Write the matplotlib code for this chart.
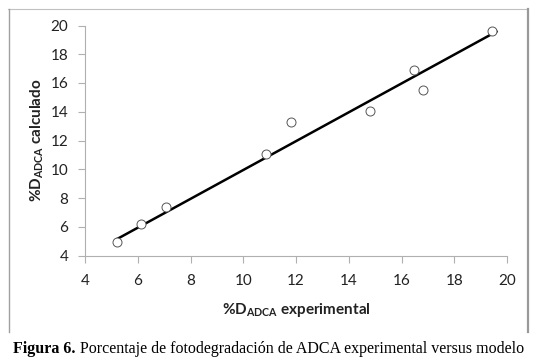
import matplotlib.pyplot as plt
from matplotlib.lines import Line2D

# valores
d_experimental = [5.23, 6.14, 7.09, 10.85, 11.81, 14.82, 16.48, 16.81, 19.43]
d_calculado = [4.92, 6.17, 7.35, 11.08, 13.27, 14.06, 16.88, 15.49, 19.65]

# línea de tendencia (extremos)
trend_x = [5.23, 19.6]
trend_y = [5.16, 19.58]

ticks = [4, 6, 8, 10, 12, 14, 16, 18, 20]

plt.rcParams['font.family'] = ['Lato', 'DejaVu Sans']
plt.rcParams['mathtext.fontset'] = 'custom'
plt.rcParams['mathtext.rm'] = 'Lato:bold'
plt.rcParams['mathtext.default'] = 'rm'

fig = plt.figure(figsize=(5.37, 3.64), dpi=100)
ax = fig.add_axes([85 / 537, 1 - 255.5 / 364, 422 / 537, 230 / 364])

ax.plot(trend_x, trend_y, color='black', linewidth=1.8, zorder=2)
ax.scatter(d_experimental, d_calculado, s=42, facecolors='white',
           edgecolors='#555555', linewidths=0.7, zorder=3)

ax.set_xlim(4, 20)
ax.set_ylim(4, 20)
ax.set_xticks(ticks)
ax.set_yticks(ticks)

for side in ['top', 'right']:
    ax.spines[side].set_visible(False)
for side in ['left', 'bottom']:
    ax.spines[side].set_color('#b0b0b0')
    ax.spines[side].set_linewidth(0.8)

ax.tick_params(axis='both', direction='out', length=5, width=0.8,
               color='#b0b0b0', labelsize=11, labelcolor='#222222')
ax.tick_params(axis='x', pad=8)
ax.tick_params(axis='y', pad=7)

ax.set_xlabel(r'%D$_{\mathrm{ADCA}}$ experimental', fontsize=11,
              fontweight='bold', color='#222222', labelpad=10)
ax.set_ylabel(r'%D$_{\mathrm{ADCA}}$ calculado', fontsize=11,
              fontweight='bold', color='#222222', labelpad=3)

# marco del gráfico
fig.add_artist(Line2D([8 / 537, 528 / 537], [1 - 9 / 364, 1 - 9 / 364],
                      color='#c0c0c0', linewidth=0.8, transform=fig.transFigure))
fig.add_artist(Line2D([8.5 / 537, 8.5 / 537], [1 - 9 / 364, 1 - 332 / 364],
                      color='#a0a0a0', linewidth=1.0, transform=fig.transFigure))
fig.add_artist(Line2D([528 / 537, 528 / 537], [1 - 9 / 364, 1 - 332 / 364],
                      color='#999999', linewidth=1.6, transform=fig.transFigure))

# pie de figura
cap_y = 1 - 349 / 364
fig.canvas.draw()
r = fig.canvas.get_renderer()
t1 = fig.text(0, cap_y, 'Figura 6. ', fontsize=11.5, fontweight='bold',
              family='Liberation Serif', va='center', ha='left')
t2 = fig.text(0, cap_y, 'Porcentaje de fotodegradación de ADCA experimental versus modelo',
              fontsize=11.5, family='Liberation Serif', va='center', ha='left')
w1 = t1.get_window_extent(r).width
w2 = t2.get_window_extent(r).width
x0 = (268.5 - (w1 + w2) / 2) / 537
t1.set_x(x0)
t2.set_x(x0 + w1 / 537)

fig.savefig('out.png', dpi=100)
